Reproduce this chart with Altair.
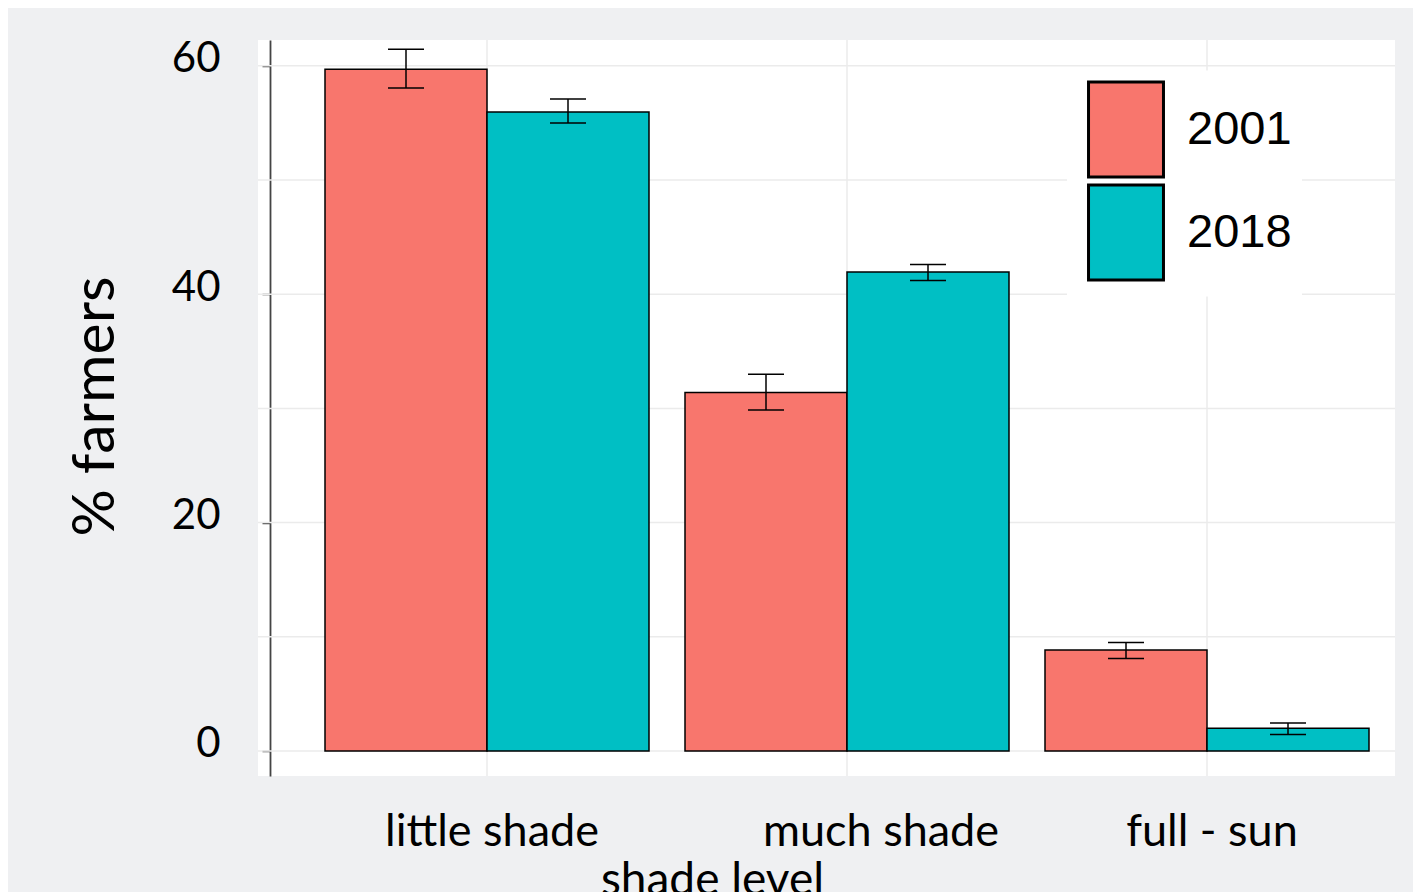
import altair as alt
import pandas as pd

shade_levels = ["little shade", "much shade", "full - sun"]
years = ["2001", "2018"]
pct_2001 = [59.7, 31.4, 8.85]
pct_2018 = [55.95, 41.95, 2.0]
low_2001 = [58.05, 29.85, 8.1]
high_2001 = [61.45, 33.0, 9.5]
low_2018 = [55.0, 41.2, 1.45]
high_2018 = [57.1, 42.6, 2.45]
grid_values = [0, 10, 20, 30, 40, 50, 60]
y_ticks = [0, 20, 40, 60]
colors = ["#F8766D", "#00BFC4"]

rows = []
for i, s in enumerate(shade_levels):
    rows.append(dict(shade=s, year=years[0], pct=pct_2001[i], lo=low_2001[i], hi=high_2001[i]))
    rows.append(dict(shade=s, year=years[1], pct=pct_2018[i], lo=low_2018[i], hi=high_2018[i]))
df = pd.DataFrame(rows)

W, H = 1137, 736
FONT = "Lato"

xscale = alt.Scale(domain=shade_levels, range=[67, 1111], paddingInner=0.1, paddingOuter=0)
yscale = alt.Scale(domain=[-2.19, 62.26], nice=False, zero=False)
offscale = alt.Scale(domain=years, paddingInner=0, paddingOuter=0)

x_axis = alt.Axis(
    orient="bottom",
    title="shade level", ticks=False, tickSize=0, domain=False, grid=False,
    labelFont=FONT, labelFontSize=45, labelColor="black", labelAngle=0, labelLimit=500,
    labelBaseline="alphabetic", labelPadding=69,
    labelOffset={"condition": {"test": "datum.label == 'much shade'", "value": 34}, "value": 5},
    titleFont=FONT, titleFontSize=46, titleFontWeight="normal", titleColor="black",
    titleX=454, titleY=118, titleBaseline="alphabetic", titleAlign="center", titleLimit=600,
)
y_axis = alt.Axis(
    orient="left",
    values=y_ticks, title="% farmers", grid=False, offset=-12,
    domainColor="#444444", domainWidth=1.8, tickColor="#444444", tickWidth=1.5, tickSize=8,
    labelFont=FONT, labelFontSize=42, labelColor="black", labelPadding=42, labelOffset=-7,
    titleFont=FONT, titleFontSize=59, titleFontWeight="normal", titleColor="black",
    titleAngle=-90, titleX=-157, titleY=366, titleBaseline="alphabetic", titleAlign="center",
    titleLimit=600,
)

X = alt.X("shade:N", scale=xscale, axis=x_axis)
XO = alt.XOffset("year:N", scale=offscale)

hgrid = alt.Chart(pd.DataFrame({"v": grid_values})).mark_rule(color="#ebebeb", strokeWidth=1.5).encode(
    y=alt.Y("v:Q", scale=yscale, axis=y_axis)
)
vgrid = alt.Chart(pd.DataFrame({"shade": shade_levels})).mark_rule(color="#ebebeb", strokeWidth=1.5).encode(
    x=X
)

bars = alt.Chart(df).mark_bar(stroke="black", strokeWidth=1.5, opacity=1).encode(
    x=X,
    xOffset=XO,
    y=alt.Y("pct:Q", scale=yscale, axis=y_axis, stack=None),
    y2=alt.datum(0),
    color=alt.Color(
        "year:N", scale=alt.Scale(domain=years, range=colors),
        legend=alt.Legend(
            title=None, orient="none", legendX=809, legendY=30.5, fillColor="white", padding=10,
            symbolType="M-0.789,-1H0.789V1H-0.789Z", symbolSize=9025,
            symbolStrokeColor="black", symbolStrokeWidth=3, symbolOpacity=1,
            labelFont="Liberation Sans", labelFontSize=47,
            labelColor="black", labelOffset=12, rowPadding=-7,
        ),
    ),
)

err = alt.Chart(df).mark_rule(color="black", strokeWidth=1.5).encode(
    x=X,
    xOffset=XO,
    y=alt.Y("lo:Q", scale=yscale, axis=y_axis),
    y2="hi:Q",
)
cap_lo = alt.Chart(df).mark_tick(color="black", size=36, thickness=1.5, opacity=1).encode(
    x=X,
    xOffset=XO,
    y=alt.Y("lo:Q", scale=yscale, axis=y_axis),
)
cap_hi = alt.Chart(df).mark_tick(color="black", size=36, thickness=1.5, opacity=1).encode(
    x=X,
    xOffset=XO,
    y=alt.Y("hi:Q", scale=yscale, axis=y_axis),
)

chart = alt.layer(hgrid, vgrid, bars, err, cap_lo, cap_hi).properties(
    width=W, height=H,
    padding={"left": 250, "top": 32, "right": 18, "bottom": 116},
    autosize=alt.AutoSizeParams(type="none"),
    background="#eff0f2",
).configure_view(stroke=None, fill="white")

chart.save("out.html", embed_options={"renderer": "svg", "actions": False})
